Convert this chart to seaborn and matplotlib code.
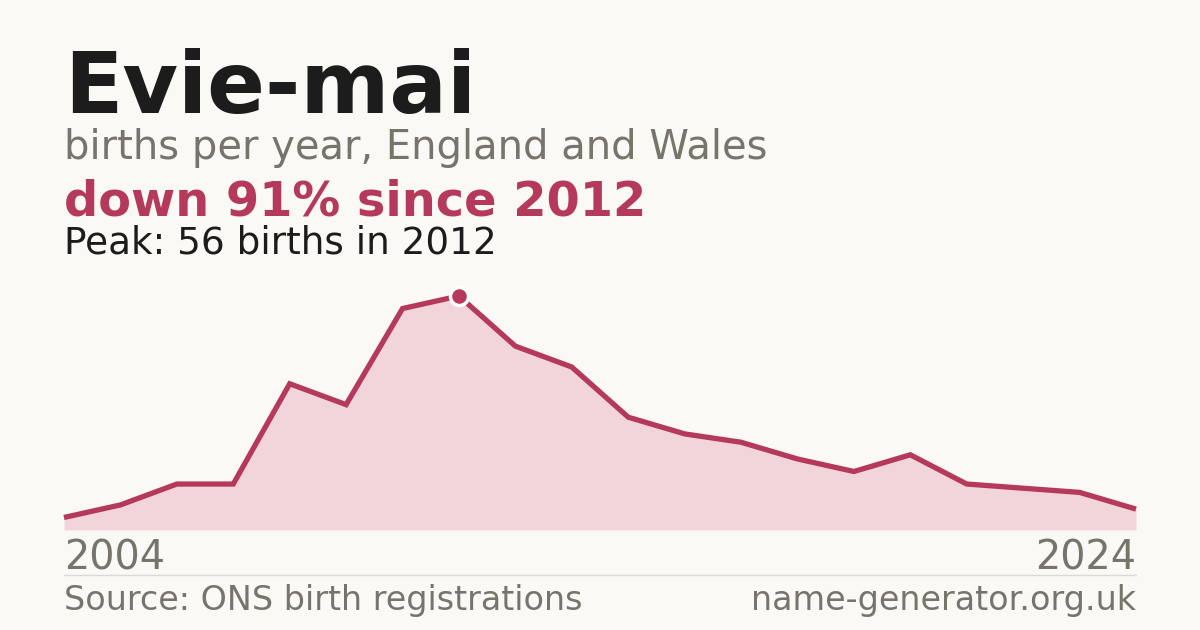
import matplotlib
matplotlib.use("Agg")
import matplotlib.pyplot as plt
import seaborn as sb
import pandas as pd

# births per year (20 points, first 2004, last 2024)
idx = list(range(20))
births = [3, 6, 11, 11, 35, 30, 53, 56, 44, 39, 27, 23, 21, 17, 14, 18, 11, 10, 9, 5]
peak_idx = 7
first_year = "2004"
last_year = "2024"

title = "Evie-mai"
subtitle = "births per year, England and Wales"
headline = "down 91% since 2012"
peak_text = "Peak: 56 births in 2012"
source = "Source: ONS birth registrations"
site = "name-generator.org.uk"

BG = "#faf9f5"
CRIMSON = "#b5395a"
FILL = "#f1d5da"
GREY = "#78746c"
DARK = "#1c1c1c"

sb.set_style("white")
plt.rcParams['font.family'] = ['DejaVu Sans']

df = pd.DataFrame({"idx": idx, "births": births})

fig = plt.figure(figsize=(12, 6.3), dpi=100, facecolor=BG)
W, H = 1200, 630
ax = fig.add_axes([64 / W, 1 - 530 / H, 1072 / W, 234 / H])
ax.set_facecolor(BG)
ax.patch.set_alpha(0)

ax.fill_between(df["idx"], df["births"], 0, color=FILL, linewidth=0)
sb.lineplot(data=df, x="idx", y="births", ax=ax, color=CRIMSON, linewidth=3.8,
            solid_joinstyle="miter", solid_capstyle="butt")
for l in ax.lines:
    l.set_clip_on(False)
ax.plot(df["idx"][peak_idx], df["births"][peak_idx], marker="o", markersize=13,
        color=CRIMSON, markeredgecolor="white", markeredgewidth=2.5, clip_on=False, zorder=5)

ax.set_xlim(0, 19)
ax.set_ylim(0, 56)
ax.axis("off")

# titles
fig.text(64 / W, 1 - 113 / H, title, fontsize=61.5, fontweight="bold", color=DARK, va="baseline")
fig.text(64 / W, 1 - 159 / H, subtitle, fontsize=28.8, color=GREY, va="baseline")
fig.text(64 / W, 1 - 215 / H, headline, fontsize=34.5, fontweight="bold", color=CRIMSON, va="baseline")
fig.text(64 / W, 1 - 253 / H, peak_text, fontsize=26.9, color=DARK, va="baseline")

# year labels
fig.text(64 / W, 1 - 570 / H, first_year, fontsize=28.6, color=GREY, va="baseline")
fig.text(1136 / W, 1 - 570 / H, last_year, fontsize=28.6, color=GREY, va="baseline", ha="right")

# divider + footer
fig.add_artist(plt.Line2D([64 / W, 1136 / W], [1 - 574.5 / H, 1 - 574.5 / H], color="#dddad3", linewidth=1))
fig.text(64 / W, 1 - 610 / H, source, fontsize=24, color=GREY, va="baseline")
fig.text(1136 / W, 1 - 610 / H, site, fontsize=24, color=GREY, va="baseline", ha="right")

fig.savefig("out.png", dpi=100, facecolor=BG)
